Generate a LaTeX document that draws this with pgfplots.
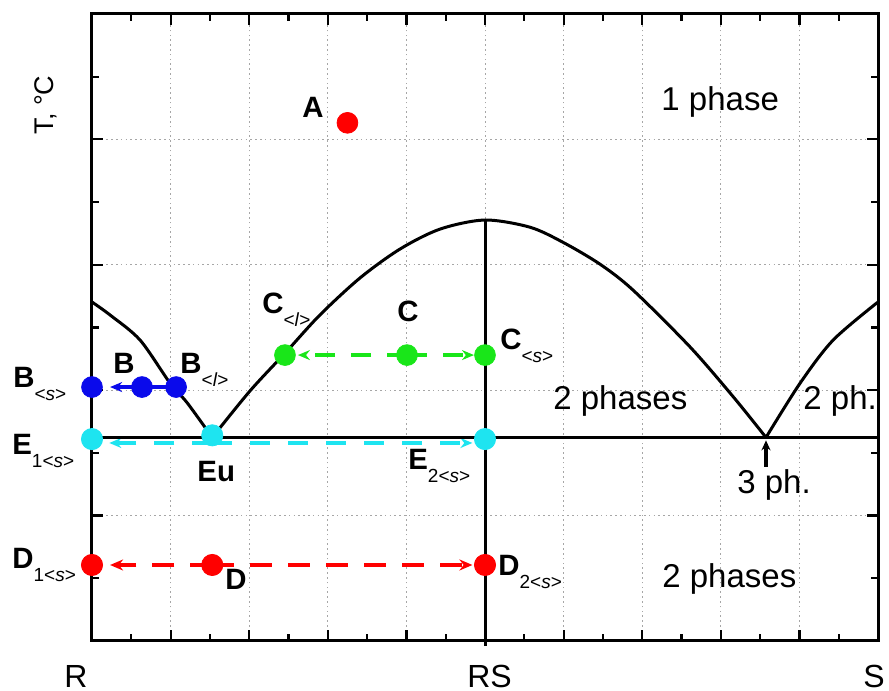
\documentclass[border=0pt]{standalone}
\usepackage{pgfplots}
\pgfplotsset{compat=1.18}
\usepackage{fontspec}
\setmainfont{Liberation Sans}
\usetikzlibrary{arrows.meta}
\definecolor{mred}{RGB}{255,0,0}
\definecolor{mblue}{RGB}{10,10,235}
\definecolor{mgreen}{RGB}{25,230,25}
\definecolor{mcyan}{RGB}{30,228,240}
\newcommand{\sub}[1]{\raisebox{-6.5pt}{\fontsize{9.5}{9.5}\selectfont\mdseries #1}}
\newcommand{\lab}[2]{\textbf{#1}\sub{#2}}
\begin{document}
\begin{tikzpicture}
\begin{axis}[
  scale only axis, width=393pt, height=313.5pt,
  xmin=0, xmax=1, ymin=0, ymax=5,
  xtick={0,0.1,0.2,0.3,0.4,0.5,0.6,0.7,0.8,0.9,1},
  minor x tick num=1,
  ytick={0,1,2,3,4,5}, minor y tick num=1,
  xticklabels={}, yticklabels={},
  grid=major,
  major grid style={gray!70, line width=0.5pt, dash pattern=on 0.8pt off 1.6pt},
  axis line style={line width=1.5pt},
  major tick length=5.5pt, minor tick length=3.5pt,
  every tick/.style={black, line width=1.1pt},
  clip=false,
]
% vertical RS line
\addplot[black, line width=1.5pt] coordinates {(0.5,-0.04) (0.5,3.357)};
% red D series
\addplot[mred, line width=2.4pt, dash pattern=on 11pt off 8pt, -{Stealth[length=6.5pt,width=5.5pt]}] coordinates {(0.153,0.606) (0.023,0.606)};
\addplot[mred, line width=2.4pt, dash pattern=on 11pt off 8pt, -{Stealth[length=6.5pt,width=5.5pt]}] coordinates {(0.153,0.606) (0.484,0.606)};
\addplot[only marks, mark=*, mark size=5.3pt, color=mred] coordinates {(0,0.606) (0.153,0.606) (0.5,0.606)};
% A
\addplot[only marks, mark=*, mark size=5.2pt, color=mred] coordinates {(0.325,4.132)};
% cyan E series
\addplot[mcyan, line width=2.4pt, dash pattern=on 10pt off 9pt, -{Stealth[length=6pt,width=5pt]}] coordinates {(0.153,1.579) (0.022,1.579)};
\addplot[mcyan, line width=2.4pt, dash pattern=on 10pt off 9pt, -{Stealth[length=6pt,width=5pt]}] coordinates {(0.153,1.579) (0.484,1.579)};
\addplot[only marks, mark=*, mark size=5.3pt, color=mcyan] coordinates {(0,1.61) (0.153,1.64) (0.5,1.61)};
% blue B series
\addplot[mblue, line width=1.6pt] coordinates {(0.107,2.025) (0.0636,2.025)};
\addplot[mblue, line width=1.6pt, -{Stealth[length=6pt,width=5pt]}] coordinates {(0.0636,2.025) (0.023,2.025)};
\addplot[only marks, mark=*, mark size=5.2pt, color=mblue] coordinates {(0,2.025) (0.0636,2.025) (0.107,2.025)};
% green C series
\addplot[mgreen, line width=2.2pt, dash pattern=on 10pt off 8pt, -{Stealth[length=6pt,width=5pt]}] coordinates {(0.4008,2.28) (0.262,2.28)};
\addplot[mgreen, line width=2.2pt, dash pattern=on 10pt off 8pt, -{Stealth[length=6pt,width=5pt]}] coordinates {(0.4008,2.28) (0.486,2.28)};
\addplot[only marks, mark=*, mark size=5.2pt, color=mgreen] coordinates {(0.2455,2.28) (0.4008,2.28) (0.5,2.28)};
% black phase boundaries
\addplot[black, line width=1.5pt] coordinates {(0,1.623) (1,1.623)};
\addplot[black, line width=1.5pt, smooth, tension=0.5] coordinates {(0,2.703) (0.0229,2.600) (0.0611,2.400) (0.0992,2.057) (0.121,1.90) (0.153,1.623)};
\addplot[black, line width=1.5pt, smooth, tension=0.5] coordinates {(0.153,1.623) (0.201,1.994) (0.247,2.305) (0.290,2.60) (0.341,2.895) (0.392,3.126) (0.443,3.285) (0.5,3.357) (0.557,3.30) (0.599,3.18) (0.646,3.006) (0.688,2.80) (0.761,2.344) (0.816,1.946) (0.8575,1.623)};
\addplot[black, line width=1.5pt, smooth, tension=0.5] coordinates {(0.8575,1.623) (0.901,2.057) (0.943,2.400) (1.0,2.703)};
\addplot[black, line width=1.6pt, -{Stealth[length=5pt,width=4.5pt]}] coordinates {(0.8575,1.39) (0.8575,1.60)};
% labels
\begin{scope}[every node/.style={inner sep=0pt, anchor=base west, font=\fontsize{14.7}{14.7}\selectfont\bfseries}]
\node at (axis cs:0.267,4.171) {A};
\node at (axis cs:-0.1005,2.0175) {\lab{B}{<\textit{s}>}};
\node at (axis cs:0.0267,2.137) {B};
\node at (axis cs:0.112,2.137) {\lab{B}{<\textit{l}>}};
\node at (axis cs:-0.1018,1.491) {\lab{E}{1<\textit{s}>}};
\node at (axis cs:0.1336,1.268) {Eu};
\node at (axis cs:0.2163,2.608) {\lab{C}{<\textit{l}>}};
\node at (axis cs:0.388,2.544) {C};
\node at (axis cs:0.519,2.321) {\lab{C}{<\textit{s}>}};
\node at (axis cs:0.402,1.364) {\lab{E}{2<\textit{s}>}};
\node at (axis cs:-0.1018,0.582) {\lab{D}{1<\textit{s}>}};
\node at (axis cs:0.1692,0.4067) {D};
\node at (axis cs:0.5165,0.526) {\lab{D}{2<\textit{s}>}};
\end{scope}
\begin{scope}[every node/.style={inner sep=0pt, anchor=base west, font=\fontsize{16.5}{16.5}\selectfont}]
\node at (axis cs:0.724,4.234) {1 phase};
\node at (axis cs:0.5865,1.842) {2 phases};
\node at (axis cs:0.9046,1.842) {2 ph.};
\node at (axis cs:0.8206,1.180) {3 ph.};
\node at (axis cs:0.7252,0.4226) {2 phases};
\end{scope}
\begin{scope}[every node/.style={inner sep=0pt, anchor=base, font=\fontsize{16}{16}\selectfont}]
\node at (axis cs:-0.0204,-0.367) {R};
\node at (axis cs:0.5057,-0.367) {RS};
\node at (axis cs:0.995,-0.367) {S};
\end{scope}
\node[inner sep=0pt, anchor=base, rotate=90, font=\fontsize{13.5}{13.5}\selectfont] at (axis cs:-0.0496,4.274) {T, °C};
\path (axis cs:-0.11705,5.1116) rectangle (axis cs:1.01399,-0.3987);
\end{axis}
\end{tikzpicture}
\end{document}
